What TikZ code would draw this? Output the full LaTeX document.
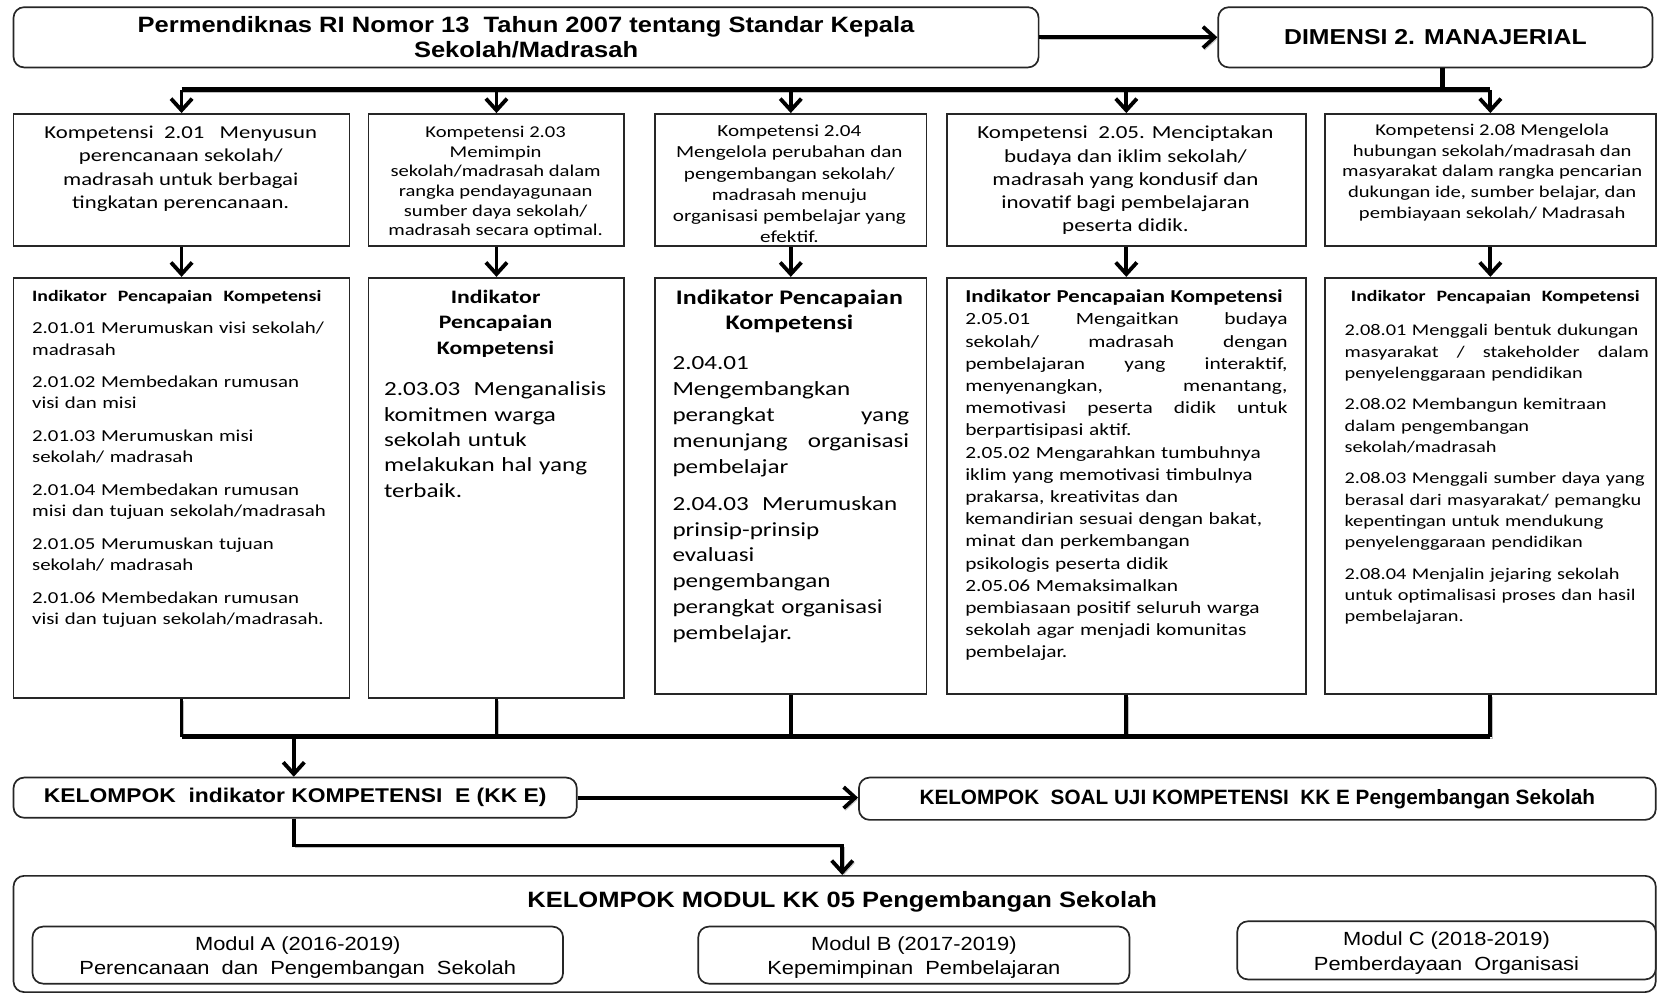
\documentclass[tikz,border=0pt]{standalone}
\usepackage{fontspec}
\setmainfont{Carlito}[FakeStretch=1.25]
\newfontfamily\hd{Liberation Sans}
\newfontfamily\hdw{Liberation Sans}[FakeStretch=1.15]
\usetikzlibrary{arrows.meta}
\newcommand\fs[2]{\fontsize{#1}{#2}\selectfont}
\newcommand\bx[7]{\node[#6, minimum width={(#4-#2)*0.5pt}, minimum height={(#5-#3)*0.5pt}, anchor=north west] (#1) at (#2,#3) {#7};}
\begin{document}
\begin{tikzpicture}[x=0.5pt,y=-0.5pt,
  frame/.style={draw=black!85, line width=0.8pt, fill=white, inner sep=0pt, align=center},
  rframe/.style={frame, rounded corners=5pt},
  txt/.style={anchor=north, inner sep=0pt, align=center},
  ltxt/.style={anchor=north west, inner sep=0pt, align=left},
  shadowed/.style={preaction={draw=black!25, transform canvas={shift={(0.8pt,-1pt)}}}},
  line/.style={line width=1.8pt, shadowed},
  bar/.style={line width=2.3pt, shadowed},
  conn/.style={line width=1.8pt, -{Straight Barb[length=5.5pt,width=10pt]}},
  hb/.style={font=\hdw\bfseries\fs{10.5}{12}},
  hm/.style={font=\hdw\fs{9}{11.5}}
]
\useasboundingbox (0,0) rectangle (1568,939);
% top row
\bx{T}{12}{6}{982}{63}{rframe,hb}{Permendiknas RI Nomor 13\ \ Tahun 2007 tentang Standar Kepala\\Sekolah/Madrasah}
\bx{D}{1152}{6}{1563}{63}{rframe,hb,font=\hdw\bfseries\fs{10.2}{12}}{DIMENSI 2. MANAJERIAL}
% competency boxes
\bx{C1}{12}{107}{330}{232}{frame}{}
\bx{C2}{348}{107}{590}{232}{frame}{}
\bx{C3}{619}{107}{876}{232}{frame}{}
\bx{C4}{895}{107}{1235}{232}{frame}{}
\bx{C5}{1253}{107}{1566}{232}{frame}{}
% indicator boxes
\bx{I1}{12}{262}{330}{660}{frame}{}
\bx{I2}{348}{262}{590}{660}{frame}{}
\bx{I3}{619}{262}{876}{656}{frame}{}
\bx{I4}{895}{262}{1235}{656}{frame}{}
\bx{I5}{1253}{262}{1566}{656}{frame}{}
% competency texts
\node[txt, font=\fs{8.6}{11}] (C1t) at (171,119) {Kompetensi\ \ 2.01\ \ \ Menyusun\\perencanaan sekolah/\\madrasah untuk berbagai\\tingkatan perencanaan.};
\node[txt, font=\fs{7.8}{9.3}] (C2t) at (469,119) {Kompetensi 2.03\\Memimpin\\sekolah/madrasah dalam\\rangka pendayagunaan\\sumber daya sekolah/\\madrasah secara optimal.};
\node[txt, font=\fs{8}{10}] (C3t) at (747,118) {Kompetensi 2.04\\Mengelola perubahan dan\\pengembangan sekolah/\\madrasah menuju\\organisasi pembelajar yang\\efektif.};
\node[txt, font=\fs{8.7}{11}] (C4t) at (1065,119) {Kompetensi\ \ 2.05. Menciptakan\\budaya dan iklim sekolah/\\madrasah yang kondusif dan\\inovatif bagi pembelajaran\\peserta didik.};
\node[txt, font=\fs{7.8}{9.8}] (C5t) at (1412,117) {Kompetensi 2.08 Mengelola\\hubungan sekolah/madrasah dan\\masyarakat dalam rangka pencarian\\dukungan ide, sumber belajar, dan\\pembiayaan sekolah/ Madrasah};
% indicator texts
\node[ltxt, text width=150pt, font=\fs{7.9}{10}] (I1t) at (30,274) {{\bfseries\fs{7.5}{10}Indikator\ \ Pencapaian\ \ Kompetensi}\\[5.5pt]
2.01.01 Merumuskan visi sekolah/\\madrasah\\[5.5pt]
2.01.02 Membedakan rumusan\\visi dan misi\\[5.5pt]
2.01.03 Merumuskan misi\\sekolah/ madrasah\\[5.5pt]
2.01.04 Membedakan rumusan\\misi dan tujuan sekolah/madrasah\\[5.5pt]
2.01.05 Merumuskan tujuan\\sekolah/ madrasah\\[5.5pt]
2.01.06 Membedakan rumusan\\visi dan tujuan sekolah/madrasah.};
\node[txt, font=\bfseries\fs{9}{12}] (I2h) at (469,274) {Indikator\\Pencapaian\\Kompetensi};
\node[ltxt, text width=115pt, font=\fs{9.5}{12}] (I2t) at (363,361) {2.03.03\ \ Menganalisis\\komitmen warga\\sekolah untuk\\melakukan hal yang\\terbaik.};
\node[txt, font=\bfseries\fs{9.8}{12}] (I3h) at (747,274) {Indikator Pencapaian\\Kompetensi};
\node[ltxt, text width=120pt, font=\fs{9.5}{12.25}] (I3t) at (636,337) {2.04.01\\Mengembangkan\\\makebox[112pt][l]{perangkat\hfill yang}\\\makebox[112pt][l]{menunjang\hfill organisasi}\\pembelajar\\[5.25pt]
2.04.03\ \ Merumuskan\\prinsip-prinsip\\evaluasi\\pengembangan\\perangkat organisasi\\pembelajar.};
\node[ltxt, text width=160pt, font=\fs{8.1}{10.5}] (I4t) at (913,274) {{\bfseries\fs{8.6}{10.5}Indikator Pencapaian Kompetensi}\\
\makebox[152.5pt][l]{2.05.01\hfill Mengaitkan\hfill budaya}\\
\makebox[152.5pt][l]{sekolah/\hfill madrasah\hfill dengan}\\
\makebox[152.5pt][l]{pembelajaran\hfill yang\hfill interaktif,}\\
\makebox[152.5pt][l]{menyenangkan,\hfill menantang,}\\
\makebox[152.5pt][l]{memotivasi\hfill peserta\hfill didik\hfill untuk}\\
berpartisipasi aktif.\\
2.05.02 Mengarahkan tumbuhnya\\
iklim yang memotivasi timbulnya\\
prakarsa, kreativitas dan\\
kemandirian sesuai dengan bakat,\\
minat dan perkembangan\\
psikologis peserta didik\\
2.05.06 Memaksimalkan\\
pembiasaan positif seluruh warga\\
sekolah agar menjadi komunitas\\
pembelajar.};
\node[ltxt, text width=160pt, font=\fs{7.7}{10}] (I5t) at (1272,274) {\hspace*{3pt}{\bfseries\fs{7.5}{10}Indikator\ \ Pencapaian\ \ Kompetensi}\\[6.5pt]
2.08.01 Menggali bentuk dukungan\\
\makebox[144pt][l]{masyarakat\hfill /\hfill stakeholder\hfill dalam}\\
penyelenggaraan pendidikan\\[5pt]
2.08.02 Membangun kemitraan\\
dalam pengembangan\\
sekolah/madrasah\\[5pt]
2.08.03 Menggali sumber daya yang\\
berasal dari masyarakat/ pemangku\\
kepentingan untuk mendukung\\
penyelenggaraan pendidikan\\[5pt]
2.08.04 Menjalin jejaring sekolah\\
untuk optimalisasi proses dan hasil\\
pembelajaran.};
% bottom
\bx{K}{12}{735}{545}{773}{rframe,hb,font=\hdw\bfseries\fs{9.4}{12}}{KELOMPOK\ \ indikator KOMPETENSI\ \ E (KK E)}
\bx{S}{812}{735}{1566}{775}{rframe,hb,font=\hd\bfseries\fs{9.8}{12}}{KELOMPOK\ \ SOAL UJI KOMPETENSI\ \ KK E Pengembangan Sekolah}
\bx{M}{12}{828}{1566}{938}{rframe}{}
\node[hb, font=\hdw\bfseries\fs{10.5}{12}, inner sep=0pt] (Mt) at (797,853) {KELOMPOK MODUL KK 05 Pengembangan Sekolah};
\bx{MA}{30}{876}{532}{930}{rframe,hm}{\rule{0pt}{9pt}Modul A (2016-2019)\\Perencanaan\ \ dan\ \ Pengembangan\ \ Sekolah}
\bx{MB}{660}{876}{1068}{930}{rframe,hm}{\rule{0pt}{9pt}Modul B (2017-2019)\\Kepemimpinan\ \ Pembelajaran}
\bx{MC}{1170}{871}{1566}{926}{rframe,hm}{\rule{0pt}{9pt}Modul C (2018-2019)\\Pemberdayaan\ \ Organisasi}
% connectors
\coordinate (bar) at (1365,85);
\coordinate (bar2) at (278,697);
\coordinate (turn) at (797,800);
\draw[conn, shadowed] (T.east) -- (T.east -| D.west);
\draw[bar] (D.south -| bar) -- (bar);
\draw[bar] (C1.north |- bar) -- (C5.north |- bar);
\foreach \i in {1,...,5}{
  \draw[conn] (C\i.north |- bar) -- (C\i.north);
  \draw[conn] (C\i.south) -- (C\i.south |- I\i.north);
  \draw[line] (I\i.south) -- (I\i.south |- bar2);
}
\draw[bar] (I1.south |- bar2) -- (I5.south |- bar2);
\draw[conn] (bar2) -- (bar2 |- K.north);
\draw[conn, shadowed] (K.east) -- (K.east -| S.west);
\draw[conn, shadowed] (K.south -| bar2) |- (turn) -- (turn |- M.north);
\end{tikzpicture}
\end{document}
